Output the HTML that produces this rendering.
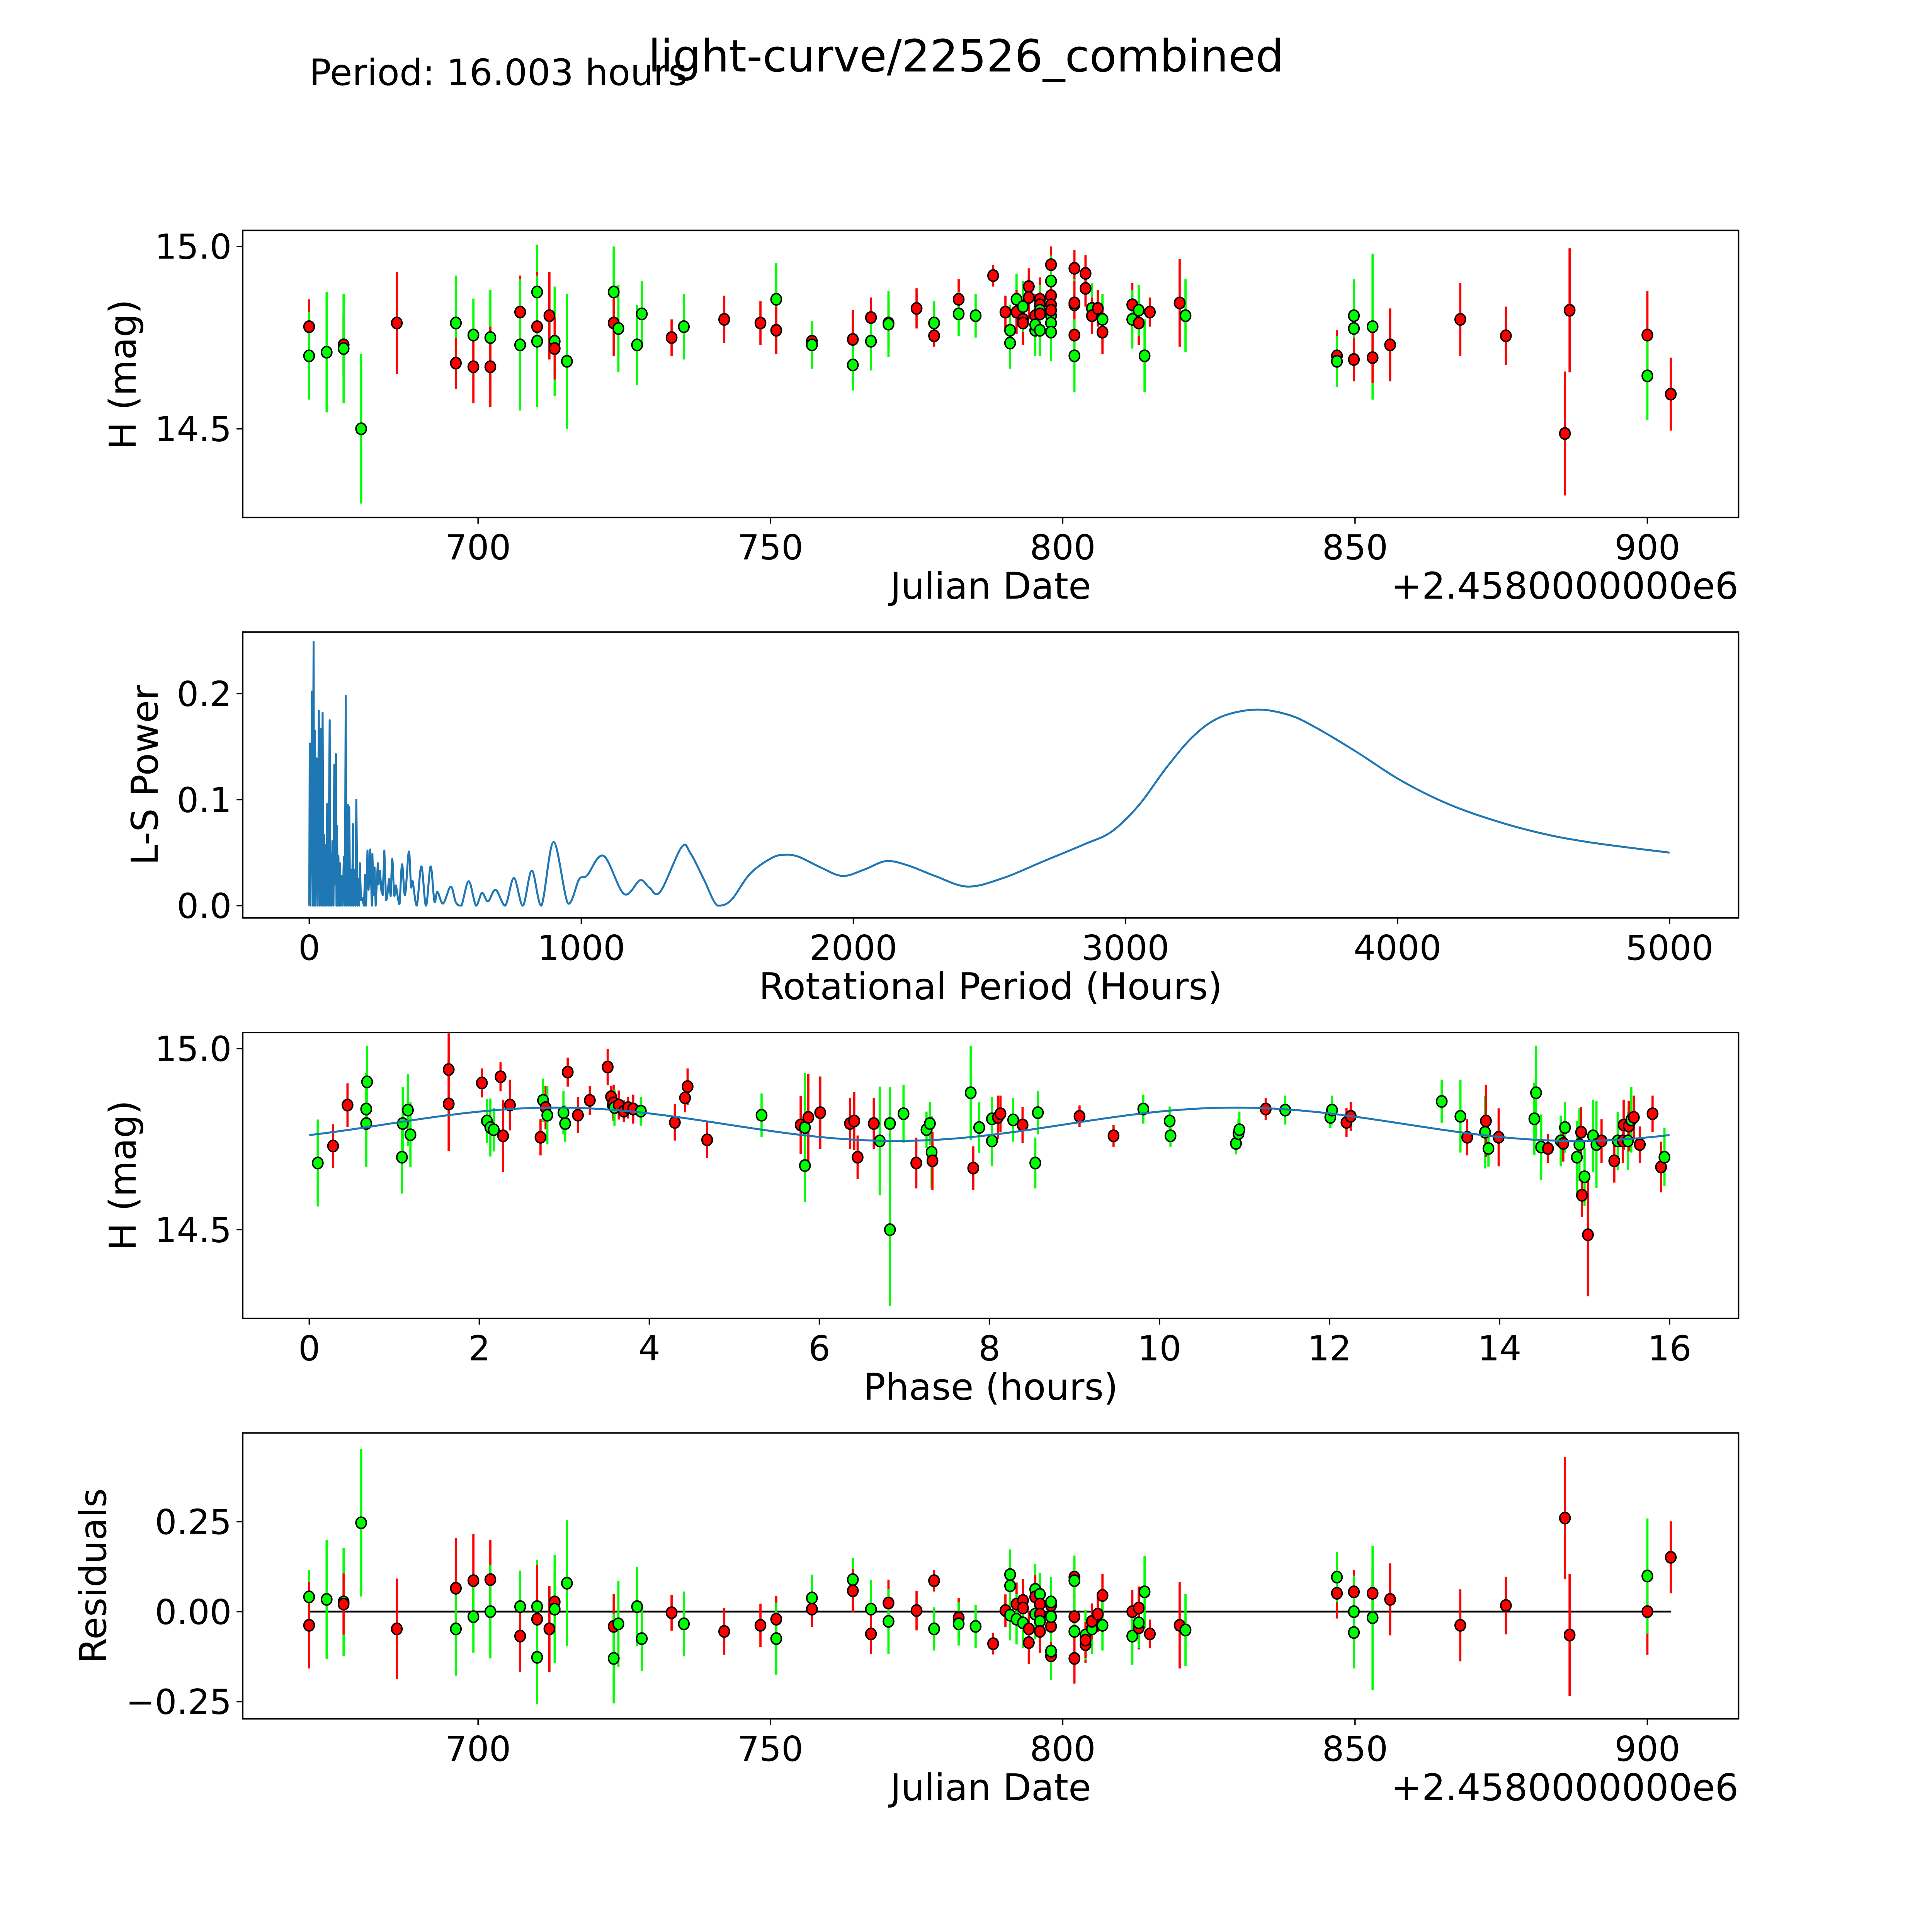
<!DOCTYPE html>
<html><head><meta charset="utf-8"><style>
html,body{margin:0;padding:0;background:#fff;overflow:hidden;width:100%;height:100%;}
svg{display:block;position:fixed;left:0;top:0;width:100vw;height:100vh;font-family:"DejaVu Sans","Liberation Sans",sans-serif;}
</style></head><body>
<svg id="fig" xmlns="http://www.w3.org/2000/svg" viewBox="0 0 1568 1568" preserveAspectRatio="none">
<rect x="0" y="0" width="1568" height="1568" fill="#fff"/>
<text x="251" y="69" font-size="29.5">Period: 16.003 hours</text>
<text x="784" y="58" font-size="36" text-anchor="middle">light-curve/22526_combined</text>
<g id="p1"></g>
<g id="p2"></g>
<g id="p3"></g>
<g id="p4"></g>
</svg>
<script>
// ---- Panel 1 data: light curve ----
const lcJD=[671.1,671.1,674.1,677.0,677.0,680.0,686.1,696.2,696.2,699.2,699.2,702.1,702.1,707.2,707.2,710.1,710.1,710.1,712.2,713.1,713.1,715.2,723.2,723.2,724.0,727.2,728.0,733.1,735.2,742.1,748.3,751.0,751.0,757.1,757.1,764.1,764.1,767.2,767.2,770.2,770.2,775.0,778.0,778.0,782.2,782.2,785.1,788.1,790.2,791.0,791.0,792.1,792.1,793.2,793.2,793.2,794.2,794.2,795.3,795.3,795.3,796.1,796.1,796.1,796.1,796.1,798.0,798.0,798.0,798.0,798.0,798.0,798.0,798.0,802.0,802.0,802.0,802.0,802.0,803.9,803.9,805.0,805.0,806.0,806.8,806.8,811.9,811.9,813.0,813.0,814.0,814.9,820.0,821.0,846.9,846.9,849.8,849.8,849.8,853.0,853.0,856.0,868.0,875.8,885.9,886.7,900.0,900.0,904.0];
const lcMag=[14.78,14.70,14.71,14.73,14.72,14.50,14.79,14.79,14.68,14.757,14.67,14.75,14.67,14.82,14.73,14.875,14.78,14.74,14.81,14.74,14.72,14.685,14.875,14.79,14.775,14.73,14.815,14.75,14.78,14.80,14.79,14.855,14.77,14.74,14.73,14.745,14.675,14.805,14.74,14.79,14.787,14.83,14.79,14.755,14.855,14.815,14.81,14.92,14.82,14.77,14.735,14.855,14.82,14.80,14.79,14.835,14.89,14.86,14.77,14.81,14.785,14.855,14.84,14.825,14.815,14.77,14.95,14.865,14.905,14.84,14.81,14.79,14.765,14.825,14.94,14.84,14.845,14.757,14.70,14.926,14.885,14.83,14.81,14.83,14.80,14.765,14.84,14.80,14.79,14.825,14.70,14.82,14.845,14.81,14.70,14.685,14.81,14.775,14.69,14.78,14.695,14.73,14.80,14.755,14.487,14.825,14.757,14.645,14.595];
const lcErr=[0.075,0.12,0.165,0.085,0.15,0.205,0.14,0.13,0.07,0.10,0.10,0.13,0.11,0.10,0.18,0.13,0.15,0.18,0.12,0.15,0.085,0.185,0.125,0.09,0.12,0.11,0.09,0.05,0.09,0.065,0.06,0.10,0.065,0.05,0.065,0.08,0.07,0.055,0.08,0.065,0.09,0.055,0.06,0.03,0.055,0.06,0.06,0.03,0.045,0.07,0.07,0.07,0.06,0.07,0.06,0.07,0.05,0.06,0.07,0.06,0.07,0.06,0.05,0.07,0.06,0.07,0.05,0.06,0.07,0.06,0.07,0.08,0.08,0.06,0.05,0.07,0.06,0.07,0.10,0.05,0.05,0.07,0.05,0.05,0.07,0.06,0.06,0.08,0.06,0.07,0.10,0.04,0.12,0.10,0.07,0.07,0.10,0.10,0.06,0.20,0.07,0.10,0.10,0.08,0.17,0.17,0.12,0.12,0.10];
const lcColor="rggrggrgrgrgrrggrgrgrggrgggrgrrgrrgrgrgrgrgrrggrrgggrrrgrrgrgrrgrgrrgrgggrrgrrgrrgrrgrrgrggrrgrgggrgrrrrrrrgr";
// ---- Panel 2 data: periodogram ----
const pgPeriod=[0,1.7,4,10,12.6,15.9,18,21,23,27,31,35,39,44,46,49,52,54,58,60,63,66,70,75,77,80,82,85,89,92,95,98,100,102,105,107,111,113,116,119,123,127,131,134,137,142,144,147,150,152,157,161,163,167,170,173,177,180,183,186,190,194,201,205,209,214,218,224,230,232,236,240,244,252,255,260,265,270,276,282,286,293,299,305,312,318,326,332,341,352,366,374,380,395,412,429,446,460,471,492,520,539,559,586,613,635,657,685,720,752,785,818,853,898,951,990,1007,1023,1082,1157,1216,1250,1290,1368,1400,1450,1500,1550,1620,1700,1750,1800,1880,1960,2040,2120,2200,2300,2420,2550,2700,2850,2950,3050,3150,3250,3350,3480,3600,3700,3850,4000,4150,4300,4500,4700,5000];
const pgPower=[0,0.153,0,0.202,0,0.249,0,0.165,0,0.139,0,0.184,0,0.167,0,0.182,0,0.067,0,0.057,0,0.096,0,0.175,0,0.049,0,0.061,0,0.133,0.02,0.143,0,0.075,0,0.047,0,0.04,0,0.028,0,0.046,0,0.198,0,0.095,0,0.093,0,0.034,0,0.077,0,0.034,0,0.1,0,0.025,0,0.04,0.005,0.007,0,0.029,0,0.052,0.015,0.053,0,0.049,0.01,0.036,0,0.04,0.02,0.033,0.014,0.01,0.052,0.005,0.007,0.025,0.009,0.044,0.01,0.019,0.007,0.002,0.039,0.01,0.051,0.018,0.023,0,0.037,0,0.037,0.004,0.013,0.002,0.018,0.003,0,0.023,0,0.012,0.004,0.015,0,0.026,0,0.033,0,0.06,0.002,0.024,0.027,0.029,0.047,0.011,0.024,0.017,0.013,0.055,0.05,0.025,0.0,0.005,0.03,0.045,0.048,0.046,0.036,0.028,0.034,0.042,0.038,0.028,0.018,0.026,0.042,0.058,0.07,0.095,0.13,0.16,0.178,0.185,0.18,0.168,0.145,0.12,0.1,0.085,0.07,0.06,0.05];
// ---- Panel 3 data: phased ----
const phPhase=[0.10,0.28,0.45,0.67,0.68,0.67,1.09,1.10,1.16,1.19,1.64,1.64,2.03,2.09,2.13,2.17,2.25,2.28,2.36,2.72,2.75,2.78,2.80,2.99,3.01,3.04,3.16,3.30,3.51,3.55,3.57,3.58,3.59,3.64,3.70,3.75,3.81,3.90,4.30,4.42,4.45,4.68,5.32,5.78,5.83,5.83,5.87,6.01,6.36,6.41,6.45,6.64,6.71,6.83,6.83,6.99,7.14,7.26,7.30,7.32,7.33,7.78,7.81,7.88,8.03,8.03,8.10,8.13,8.28,8.39,8.54,8.57,9.06,9.46,9.81,10.12,10.13,10.90,10.93,10.94,11.25,11.48,12.01,12.03,12.20,12.25,13.32,13.54,13.62,13.83,13.84,13.87,13.99,14.41,14.43,14.49,14.57,14.72,14.75,14.77,14.91,14.94,14.96,14.97,15.0,15.04,15.10,15.14,15.20,15.35,15.39,15.45,15.46,15.51,15.52,15.55,15.58,15.65,15.80,15.90,15.94];
const phMag=[14.684,14.731,14.844,14.833,14.908,14.793,14.70,14.793,14.83,14.762,14.942,14.847,14.905,14.80,14.782,14.776,14.922,14.759,14.844,14.755,14.857,14.837,14.816,14.823,14.793,14.935,14.816,14.857,14.949,14.867,14.844,14.85,14.837,14.844,14.827,14.837,14.833,14.827,14.796,14.864,14.895,14.748,14.816,14.789,14.677,14.782,14.81,14.823,14.793,14.80,14.70,14.793,14.745,14.793,14.50,14.82,14.684,14.776,14.793,14.714,14.69,14.878,14.67,14.782,14.806,14.745,14.81,14.82,14.803,14.789,14.684,14.823,14.813,14.759,14.833,14.80,14.759,14.738,14.765,14.776,14.833,14.83,14.81,14.83,14.796,14.813,14.854,14.813,14.755,14.769,14.80,14.724,14.755,14.806,14.878,14.728,14.724,14.745,14.738,14.782,14.70,14.735,14.769,14.595,14.646,14.486,14.759,14.735,14.745,14.69,14.745,14.745,14.789,14.745,14.786,14.803,14.81,14.735,14.82,14.673,14.70];
const phErr=[0.12,0.06,0.06,0.1,0.1,0.12,0.1,0.1,0.1,0.09,0.1,0.13,0.04,0.06,0.08,0.06,0.04,0.1,0.07,0.05,0.06,0.06,0.08,0.06,0.05,0.04,0.05,0.04,0.05,0.03,0.04,0.05,0.05,0.04,0.03,0.03,0.04,0.04,0.05,0.04,0.05,0.05,0.06,0.08,0.1,0.15,0.12,0.1,0.07,0.08,0.06,0.07,0.15,0.1,0.21,0.08,0.07,0.05,0.06,0.1,0.08,0.13,0.06,0.07,0.06,0.07,0.06,0.05,0.06,0.05,0.07,0.06,0.03,0.03,0.04,0.04,0.03,0.03,0.04,0.05,0.03,0.04,0.03,0.04,0.04,0.04,0.06,0.1,0.05,0.1,0.1,0.05,0.08,0.1,0.13,0.09,0.04,0.07,0.05,0.07,0.1,0.1,0.07,0.06,0.08,0.17,0.1,0.12,0.06,0.06,0.08,0.06,0.07,0.08,0.07,0.09,0.06,0.05,0.05,0.07,0.08];
const phColor="grrggg"+"gggg"+"rr"+"rgggrrr"+"rgrg"+"ggrrr"+"rrgrgrrrrg"+"rrrr"+"g"+"rggrr"+"rrrrgggg"+"rgggr"+"grgggrrgrgg"+"rr"+"ggg"+"ggg"+"rg"+"ggrr"+"ggrgrgr"+"gggr"+"grgggrrgrggr"+"rgrrgrgrrrrg";
// ---- Panel 4 data: residuals ----
const resJD=[671.1,671.1,674.1,677.0,677.0,680.0,686.1,696.2,696.2,699.2,699.2,702.1,702.1,707.2,707.2,710.1,710.1,710.1,712.2,713.1,713.1,715.2,723.2,723.2,724.0,727.2,728.0,733.1,735.2,742.1,748.3,751.0,751.0,757.1,757.1,764.1,764.1,767.2,767.2,770.2,770.2,775.0,778.0,778.0,782.2,782.2,785.1,788.1,790.2,791.0,791.0,791.0,792.1,792.1,793.2,793.2,793.2,794.2,794.2,795.3,795.3,795.3,796.1,796.1,796.1,796.1,796.1,798.0,798.0,798.0,798.0,798.0,798.0,802.0,802.0,802.0,802.0,802.0,803.9,803.9,803.9,805.0,805.0,806.0,806.8,806.8,811.9,811.9,813.0,813.0,813.0,814.0,814.9,820.0,821.0,846.9,846.9,849.8,849.8,849.8,853.0,853.0,856.0,868.0,875.8,885.9,886.7,900.0,900.0,904.0];
const resVal=[0.041,-0.038,0.034,0.027,0.021,0.247,-0.048,0.065,-0.048,0.086,-0.014,0.089,0,0.014,-0.068,0.014,-0.021,-0.127,-0.048,0.027,0.007,0.079,-0.041,-0.13,-0.034,0.014,-0.075,-0.003,-0.034,-0.055,-0.038,-0.021,-0.075,0.038,0.007,0.089,0.058,0.007,-0.062,0.024,-0.027,0.003,0.086,-0.048,-0.017,-0.034,-0.041,-0.089,0.003,0.103,0.072,-0.01,0.021,-0.021,0.031,0.01,-0.031,-0.048,-0.086,0.062,0.041,-0.007,0.048,0.021,-0.007,-0.027,-0.055,-0.123,-0.11,-0.041,-0.014,0.017,0.027,0.096,0.086,-0.014,-0.055,-0.13,-0.092,-0.065,-0.079,-0.048,-0.027,-0.007,0.045,-0.038,0,-0.068,-0.045,-0.031,0.01,0.055,-0.062,-0.038,-0.051,0.051,0.096,0.055,-0.058,0,0.051,-0.017,0.034,-0.038,0.017,0.26,-0.065,0,0.099,0.151];
const resErr=[0.075,0.12,0.165,0.15,0.085,0.205,0.14,0.14,0.13,0.13,0.10,0.11,0.13,0.1,0.10,0.13,0.15,0.13,0.12,0.085,0.15,0.175,0.09,0.125,0.12,0.11,0.09,0.05,0.09,0.065,0.06,0.065,0.10,0.065,0.05,0.06,0.06,0.08,0.055,0.065,0.09,0.055,0.03,0.06,0.055,0.06,0.06,0.03,0.045,0.07,0.07,0.07,0.06,0.07,0.06,0.06,0.07,0.05,0.06,0.07,0.06,0.07,0.06,0.05,0.06,0.07,0.06,0.06,0.08,0.06,0.07,0.05,0.07,0.05,0.07,0.06,0.1,0.07,0.05,0.07,0.05,0.07,0.05,0.05,0.06,0.07,0.06,0.08,0.06,0.07,0.06,0.1,0.04,0.12,0.1,0.07,0.07,0.06,0.1,0.1,0.07,0.2,0.1,0.1,0.08,0.17,0.17,0.12,0.16,0.1];
const resColor="grggrgrrgr"+"grggrgrgrr"+"ggrggggrgr"+"rrggrgrgrr"+"grrgrggrrg"+"ggrgrrgrrg"+"rggrrgrrgrgrg"+"rgrgrrgrgrrrg"+"rgrgrgrrg"+"rgrggrgrrrrrrgr";
const xTicks1=[700,750,800,850,900];
const yTicks1=[14.5,15.0];
const xTicks2=[0,1000,2000,3000,4000,5000];
const yTicks2=[0.0,0.1,0.2];
const xTicks3=[0,2,4,6,8,10,12,14,16];
const yTicks3=[14.5,15.0];
const yTicks4=[-0.25,0.00,0.25];

const NS="http://www.w3.org/2000/svg";
const TF=28, LF=30;
function mk(parent,tag,attrs){const e=document.createElementNS(NS,tag);for(const k in attrs)e.setAttribute(k,attrs[k]);parent.appendChild(e);return e;}
const L=197,R=1411;
function lin(d0,d1,r0,r1){return v=>r0+(v-d0)*(r1-r0)/(d1-d0);}
function frame(g,top,bot){const r=mk(g,'rect',{x:L,y:top,width:R-L,height:bot-top,fill:'none',stroke:'#000','stroke-width':1.2});

}
function xticks(g,ticks,sx,bot,fmt){ticks.forEach(t=>{const x=sx(t);mk(g,'line',{x1:x,x2:x,y1:bot,y2:bot+5,stroke:'#000','stroke-width':1.1});
const tx=mk(g,'text',{x:x,y:bot+34,'font-size':TF,'text-anchor':'middle'});tx.textContent=fmt(t);

});}
function yticks(g,ticks,sy,fmt){ticks.forEach(t=>{const y=sy(t);mk(g,'line',{x1:L,x2:L-5,y1:y,y2:y,stroke:'#000','stroke-width':1.1});
const tx=mk(g,'text',{x:L-9,y:y+10,'font-size':TF,'text-anchor':'end'});tx.textContent=fmt(t);

});}
function label(g,txt,x,y,rot,name){const t=mk(g,'text',{x:x,y:y,'font-size':LF,'text-anchor':'middle'});if(rot)t.setAttribute('transform','rotate(-90 '+x+' '+y+')');t.textContent=txt;

}
function errpts(g,xs,ys,es,cs,sx,sy,name){
 xs.forEach((v,i)=>{const c=cs[i]==='r'?'#ff0000':'#00ff00';const x=sx(v);
  const l=mk(g,'line',{x1:x,x2:x,y1:sy(ys[i]-es[i]),y2:sy(ys[i]+es[i]),stroke:c,'stroke-width':1.8});
  
  });
 xs.forEach((v,i)=>{const c=cs[i]==='r'?'#ff0000':'#00ff00';
  const p=mk(g,'ellipse',{cx:sx(v),cy:sy(ys[i]),rx:4.2,ry:4.6,fill:c,stroke:'#000','stroke-width':1.2});
  
  });}
const jdFmt=t=>String(t);

// Panel 1
(function(){const g=document.getElementById('p1');const top=187,bot=420;
 const sx=lin(700,900,388,1337), sy=lin(14.5,15.0,348,200);
 errpts(g,lcJD,lcMag,lcErr,lcColor,sx,sy,'light-curve');
 frame(g,top,bot);xticks(g,xTicks1,sx,bot,jdFmt);yticks(g,yTicks1,sy,t=>t.toFixed(1));
 label(g,'Julian Date',804,486,false,'x-axis-title');label(g,'H (mag)',110,304,true,'y-axis-title');
 const o=mk(g,'text',{x:1411,y:486,'font-size':LF,'text-anchor':'end'});o.textContent='+2.4580000000e6';
 
 })();
// Panel 2
(function(){const g=document.getElementById('p2');const top=513,bot=745;
 const sx=lin(0,5000,251,1355), sy=lin(0,0.1,735,649);
 const P=pgPeriod.map((p,i)=>[sx(p),sy(pgPower[i])]);
 let d='M'+P[0][0].toFixed(2)+','+P[0][1].toFixed(2);
 for(let i=1;i<P.length;i++){
   if(pgPeriod[i]<300){d+='L'+P[i][0].toFixed(2)+','+P[i][1].toFixed(2);continue;}
   const p0=P[Math.max(0,i-2)],p1=P[i-1],p2=P[i],p3=P[Math.min(P.length-1,i+1)];
   const c1x=p1[0]+(p2[0]-p0[0])/6,c1y=p1[1]+(p2[1]-p0[1])/6;
   const c2x=p2[0]-(p3[0]-p1[0])/6,c2y=p2[1]-(p3[1]-p1[1])/6;
   d+='C'+c1x.toFixed(2)+','+Math.min(735,c1y).toFixed(2)+' '+c2x.toFixed(2)+','+Math.min(735,c2y).toFixed(2)+' '+p2[0].toFixed(2)+','+p2[1].toFixed(2);
 }
 const pl=mk(g,'path',{d:d,fill:'none',stroke:'#1f77b4','stroke-width':1.6,'stroke-linejoin':'round'});
 
 
 frame(g,top,bot);xticks(g,xTicks2,sx,bot,jdFmt);yticks(g,yTicks2,sy,t=>t.toFixed(1));
 label(g,'Rotational Period (Hours)',804,811,false,'x-axis-title');label(g,'L-S Power',128,629,true,'y-axis-title');})();
// Panel 3
(function(){const g=document.getElementById('p3');const top=838,bot=1070;
 const sx=lin(0,16,251,1355), sy=lin(14.5,15.0,998,851);
 errpts(g,phPhase,phMag,phErr,phColor,sx,sy,'phased');
 let d='';for(let k=0;k<=160;k++){const ph=k*0.1;const m=14.791+0.046*Math.cos(2*Math.PI*2*(ph-2.9)/16);d+=(k?'L':'M')+sx(ph).toFixed(2)+','+sy(m).toFixed(2);}
 const mp=mk(g,'path',{d:d,fill:'none',stroke:'#1f77b4','stroke-width':1.6});
 
 
 frame(g,top,bot);xticks(g,xTicks3,sx,bot,jdFmt);yticks(g,yTicks3,sy,t=>t.toFixed(1));
 label(g,'Phase (hours)',804,1136,false,'x-axis-title');label(g,'H (mag)',110,954,true,'y-axis-title');})();
// Panel 4
(function(){const g=document.getElementById('p4');const top=1163,bot=1395;
 const sx=lin(700,900,388,1337), sy=lin(0,0.25,1308,1235);
 const zl=mk(g,'line',{x1:sx(671.1),x2:sx(904),y1:sy(0),y2:sy(0),stroke:'#000','stroke-width':1.5});
 
 
 errpts(g,resJD,resVal,resErr,resColor,sx,sy,'residual');
 frame(g,top,bot);xticks(g,xTicks1,sx,bot,jdFmt);yticks(g,yTicks4,sy,t=>(t<0?'\u22120.25':t.toFixed(2)));
 label(g,'Julian Date',804,1461,false,'x-axis-title');label(g,'Residuals',86,1279,true,'y-axis-title');
 const o=mk(g,'text',{x:1411,y:1461,'font-size':LF,'text-anchor':'end'});o.textContent='+2.4580000000e6';
 
 })();
</script>
</body></html>
